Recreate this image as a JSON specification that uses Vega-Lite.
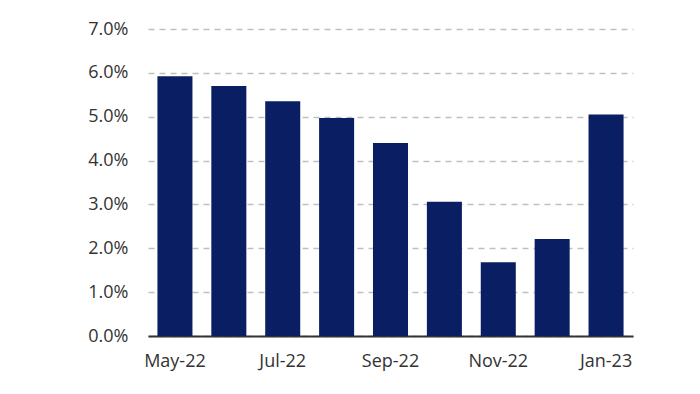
{
  "$schema": "https://vega.github.io/schema/vega-lite/v6.json",
  "width": 485,
  "height": 307,
  "autosize": {"type": "none"},
  "padding": {"left": 148, "top": 29, "right": 67, "bottom": 58},
  "background": "white",
  "data": {
    "values": [
      {"month": "May-22", "value": 5.92},
      {"month": "Jun-22", "value": 5.70},
      {"month": "Jul-22", "value": 5.35},
      {"month": "Aug-22", "value": 4.97},
      {"month": "Sep-22", "value": 4.40},
      {"month": "Oct-22", "value": 3.06},
      {"month": "Nov-22", "value": 1.68},
      {"month": "Dec-22", "value": 2.21},
      {"month": "Jan-23", "value": 5.05}
    ]
  },
  "config": {
    "view": {"stroke": null},
    "font": "Open Sans"
  },
  "mark": {"type": "bar", "color": "#0a1f63"},
  "encoding": {
    "x": {
      "field": "month",
      "type": "ordinal",
      "sort": null,
      "title": null,
      "scale": {"paddingInner": 0.35, "paddingOuter": 0.175},
      "axis": {
        "values": ["May-22", "Jul-22", "Sep-22", "Nov-22", "Jan-23"],
        "labelAngle": 0,
        "ticks": false,
        "domainColor": "#333333",
        "domainWidth": 2,
        "labelFontSize": 18,
        "labelColor": "#333333",
        "labelPadding": 16,
        "grid": false
      }
    },
    "y": {
      "field": "value",
      "type": "quantitative",
      "title": null,
      "scale": {"domain": [0, 7], "nice": false},
      "axis": {
        "values": [0, 1, 2, 3, 4, 5, 6, 7],
        "labelExpr": "format(datum.value, '.1f') + '%'",
        "domain": false,
        "ticks": false,
        "labelFontSize": 18,
        "labelColor": "#333333",
        "labelPadding": 20,
        "grid": true,
        "gridColor": "#c0c0c0",
        "gridDash": [6, 5],
        "gridWidth": 1.5
      }
    }
  }
}
